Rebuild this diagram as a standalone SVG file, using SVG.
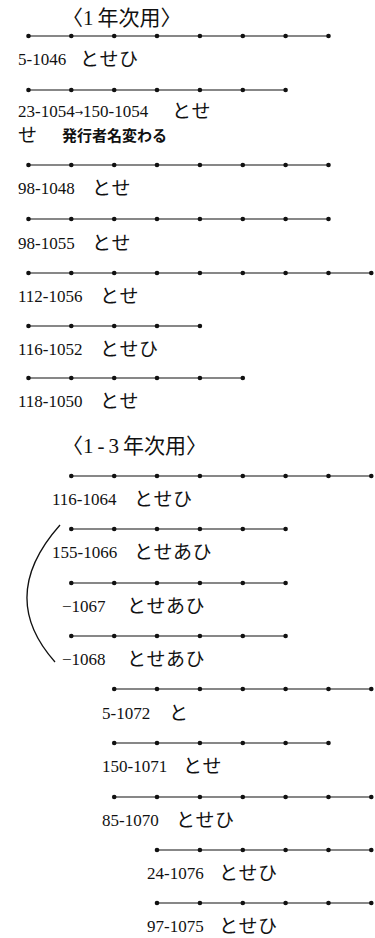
<svg xmlns="http://www.w3.org/2000/svg" width="375" height="938" viewBox="0 0 375 938">
<style>
.bg{fill:#fff}
.ln{stroke:#111;stroke-width:1.2;fill:none}
.dt{fill:#111}
.num{font-family:"Liberation Serif",serif;font-size:17px;fill:#111}
.kn{font-family:"Noto Sans CJK JP",sans-serif;font-size:19px;fill:#111;letter-spacing:0.5px}
.ttl{font-family:"Noto Sans CJK JP",sans-serif;font-size:21px;fill:#111}
.tn{font-family:"Liberation Serif",serif}
.ar{font-family:"DejaVu Sans",sans-serif;font-size:10px}
.note{font-family:"Noto Sans CJK JP",sans-serif;font-size:15px;font-weight:700;fill:#111}
.arc{stroke:#111;stroke-width:1.3;fill:none}
</style>
<defs>
<circle id="d" r="2.3" class="dt"/>
</defs>
<rect class="bg" width="375" height="938"/>

<g id="title1"><text class="ttl" x="62" y="25">〈<tspan class="tn">1</tspan><tspan dx="4">年次用</tspan>〉</text></g>

<g id="connectors">
<path class="arc" d="M60,525 Q-3.5,596.5 55,662"/>
</g>

<g id="r1">
<line class="ln" x1="28.5" y1="36" x2="328.5" y2="36"/>
<use href="#d" x="28.5" y="36"/><use href="#d" x="71.3" y="36"/><use href="#d" x="114.2" y="36"/><use href="#d" x="157" y="36"/><use href="#d" x="199.9" y="36"/><use href="#d" x="242.8" y="36"/><use href="#d" x="285.6" y="36"/><use href="#d" x="328.5" y="36"/>
<text class="num" x="18" y="65">5-1046</text><text class="kn" x="80" y="66">とせひ</text>
</g>

<g id="r2">
<line class="ln" x1="28.5" y1="90" x2="285.6" y2="90"/>
<use href="#d" x="28.5" y="90"/><use href="#d" x="71.3" y="90"/><use href="#d" x="114.2" y="90"/><use href="#d" x="157" y="90"/><use href="#d" x="199.9" y="90"/><use href="#d" x="242.8" y="90"/><use href="#d" x="285.6" y="90"/>
<text class="num" x="18" y="117">23-1054<tspan class="ar" dy="-1">→</tspan><tspan dy="1">150-1054</tspan></text><text class="kn" x="172" y="118">とせ</text>
<text class="kn" x="18" y="142" font-size="18">せ</text><text class="note" x="62" y="141">発行者名変わる</text>
</g>

<g id="r3">
<line class="ln" x1="28.5" y1="165" x2="328.5" y2="165"/>
<use href="#d" x="28.5" y="165"/><use href="#d" x="71.3" y="165"/><use href="#d" x="114.2" y="165"/><use href="#d" x="157" y="165"/><use href="#d" x="199.9" y="165"/><use href="#d" x="242.8" y="165"/><use href="#d" x="285.6" y="165"/><use href="#d" x="328.5" y="165"/>
<text class="num" x="18" y="194">98-1048</text><text class="kn" x="92" y="195">とせ</text>
</g>

<g id="r4">
<line class="ln" x1="28.5" y1="219" x2="328.5" y2="219"/>
<use href="#d" x="28.5" y="219"/><use href="#d" x="71.3" y="219"/><use href="#d" x="114.2" y="219"/><use href="#d" x="157" y="219"/><use href="#d" x="199.9" y="219"/><use href="#d" x="242.8" y="219"/><use href="#d" x="285.6" y="219"/><use href="#d" x="328.5" y="219"/>
<text class="num" x="18" y="249">98-1055</text><text class="kn" x="92" y="250">とせ</text>
</g>

<g id="r5">
<line class="ln" x1="28.5" y1="273" x2="371.3" y2="273"/>
<use href="#d" x="28.5" y="273"/><use href="#d" x="71.3" y="273"/><use href="#d" x="114.2" y="273"/><use href="#d" x="157" y="273"/><use href="#d" x="199.9" y="273"/><use href="#d" x="242.8" y="273"/><use href="#d" x="285.6" y="273"/><use href="#d" x="328.5" y="273"/><use href="#d" x="371.3" y="273"/>
<text class="num" x="18" y="302">112-1056</text><text class="kn" x="100" y="303">とせ</text>
</g>

<g id="r6">
<line class="ln" x1="28.5" y1="326" x2="199.9" y2="326"/>
<use href="#d" x="28.5" y="326"/><use href="#d" x="71.3" y="326"/><use href="#d" x="114.2" y="326"/><use href="#d" x="157" y="326"/><use href="#d" x="199.9" y="326"/>
<text class="num" x="18" y="355">116-1052</text><text class="kn" x="100" y="356">とせひ</text>
</g>

<g id="r7">
<line class="ln" x1="28.5" y1="378" x2="242.8" y2="378"/>
<use href="#d" x="28.5" y="378"/><use href="#d" x="71.3" y="378"/><use href="#d" x="114.2" y="378"/><use href="#d" x="157" y="378"/><use href="#d" x="199.9" y="378"/><use href="#d" x="242.8" y="378"/>
<text class="num" x="18" y="407">118-1050</text><text class="kn" x="100" y="408">とせ</text>
</g>

<g id="title2"><text class="ttl" x="62" y="453">〈<tspan class="tn">1</tspan><tspan class="tn" dx="4">-</tspan><tspan class="tn" dx="4">3</tspan><tspan dx="4">年次用</tspan>〉</text></g>

<g id="s1">
<line class="ln" x1="71.3" y1="476" x2="371.3" y2="476"/>
<use href="#d" x="71.3" y="476"/><use href="#d" x="114.2" y="476"/><use href="#d" x="157" y="476"/><use href="#d" x="199.9" y="476"/><use href="#d" x="242.8" y="476"/><use href="#d" x="285.6" y="476"/><use href="#d" x="328.5" y="476"/><use href="#d" x="371.3" y="476"/>
<text class="num" x="52" y="505">116-1064</text><text class="kn" x="134" y="506">とせひ</text>
</g>

<g id="s2">
<line class="ln" x1="71.3" y1="529" x2="285.6" y2="529"/>
<use href="#d" x="71.3" y="529"/><use href="#d" x="114.2" y="529"/><use href="#d" x="157" y="529"/><use href="#d" x="199.9" y="529"/><use href="#d" x="242.8" y="529"/><use href="#d" x="285.6" y="529"/>
<text class="num" x="52" y="558">155-1066</text><text class="kn" x="134" y="559">とせあひ</text>
</g>

<g id="s3">
<line class="ln" x1="71.3" y1="583" x2="285.6" y2="583"/>
<use href="#d" x="71.3" y="583"/><use href="#d" x="114.2" y="583"/><use href="#d" x="157" y="583"/><use href="#d" x="199.9" y="583"/><use href="#d" x="242.8" y="583"/><use href="#d" x="285.6" y="583"/>
<text class="num" x="62" y="612">−1067</text><text class="kn" x="127" y="613">とせあひ</text>
</g>

<g id="s4">
<line class="ln" x1="71.3" y1="636" x2="285.6" y2="636"/>
<use href="#d" x="71.3" y="636"/><use href="#d" x="114.2" y="636"/><use href="#d" x="157" y="636"/><use href="#d" x="199.9" y="636"/><use href="#d" x="242.8" y="636"/><use href="#d" x="285.6" y="636"/>
<text class="num" x="62" y="665">−1068</text><text class="kn" x="127" y="666">とせあひ</text>
</g>

<g id="s5">
<line class="ln" x1="114.2" y1="689" x2="371.3" y2="689"/>
<use href="#d" x="114.2" y="689"/><use href="#d" x="157" y="689"/><use href="#d" x="199.9" y="689"/><use href="#d" x="242.8" y="689"/><use href="#d" x="285.6" y="689"/><use href="#d" x="328.5" y="689"/><use href="#d" x="371.3" y="689"/>
<text class="num" x="102" y="719">5-1072</text><text class="kn" x="169" y="720">と</text>
</g>

<g id="s6">
<line class="ln" x1="114.2" y1="743" x2="328.5" y2="743"/>
<use href="#d" x="114.2" y="743"/><use href="#d" x="157" y="743"/><use href="#d" x="199.9" y="743"/><use href="#d" x="242.8" y="743"/><use href="#d" x="285.6" y="743"/><use href="#d" x="328.5" y="743"/>
<text class="num" x="102" y="772">150-1071</text><text class="kn" x="183" y="773">とせ</text>
</g>

<g id="s7">
<line class="ln" x1="114.2" y1="797" x2="371.3" y2="797"/>
<use href="#d" x="114.2" y="797"/><use href="#d" x="157" y="797"/><use href="#d" x="199.9" y="797"/><use href="#d" x="242.8" y="797"/><use href="#d" x="285.6" y="797"/><use href="#d" x="328.5" y="797"/><use href="#d" x="371.3" y="797"/>
<text class="num" x="102" y="826">85-1070</text><text class="kn" x="176" y="827">とせひ</text>
</g>

<g id="s8">
<line class="ln" x1="157" y1="850" x2="371.3" y2="850"/>
<use href="#d" x="157" y="850"/><use href="#d" x="199.9" y="850"/><use href="#d" x="242.8" y="850"/><use href="#d" x="285.6" y="850"/><use href="#d" x="328.5" y="850"/><use href="#d" x="371.3" y="850"/>
<text class="num" x="147" y="879">24-1076</text><text class="kn" x="219" y="880">とせひ</text>
</g>

<g id="s9">
<line class="ln" x1="157" y1="903" x2="371.3" y2="903"/>
<use href="#d" x="157" y="903"/><use href="#d" x="199.9" y="903"/><use href="#d" x="242.8" y="903"/><use href="#d" x="285.6" y="903"/><use href="#d" x="328.5" y="903"/><use href="#d" x="371.3" y="903"/>
<text class="num" x="147" y="932">97-1075</text><text class="kn" x="219" y="933">とせひ</text>
</g>
</svg>
